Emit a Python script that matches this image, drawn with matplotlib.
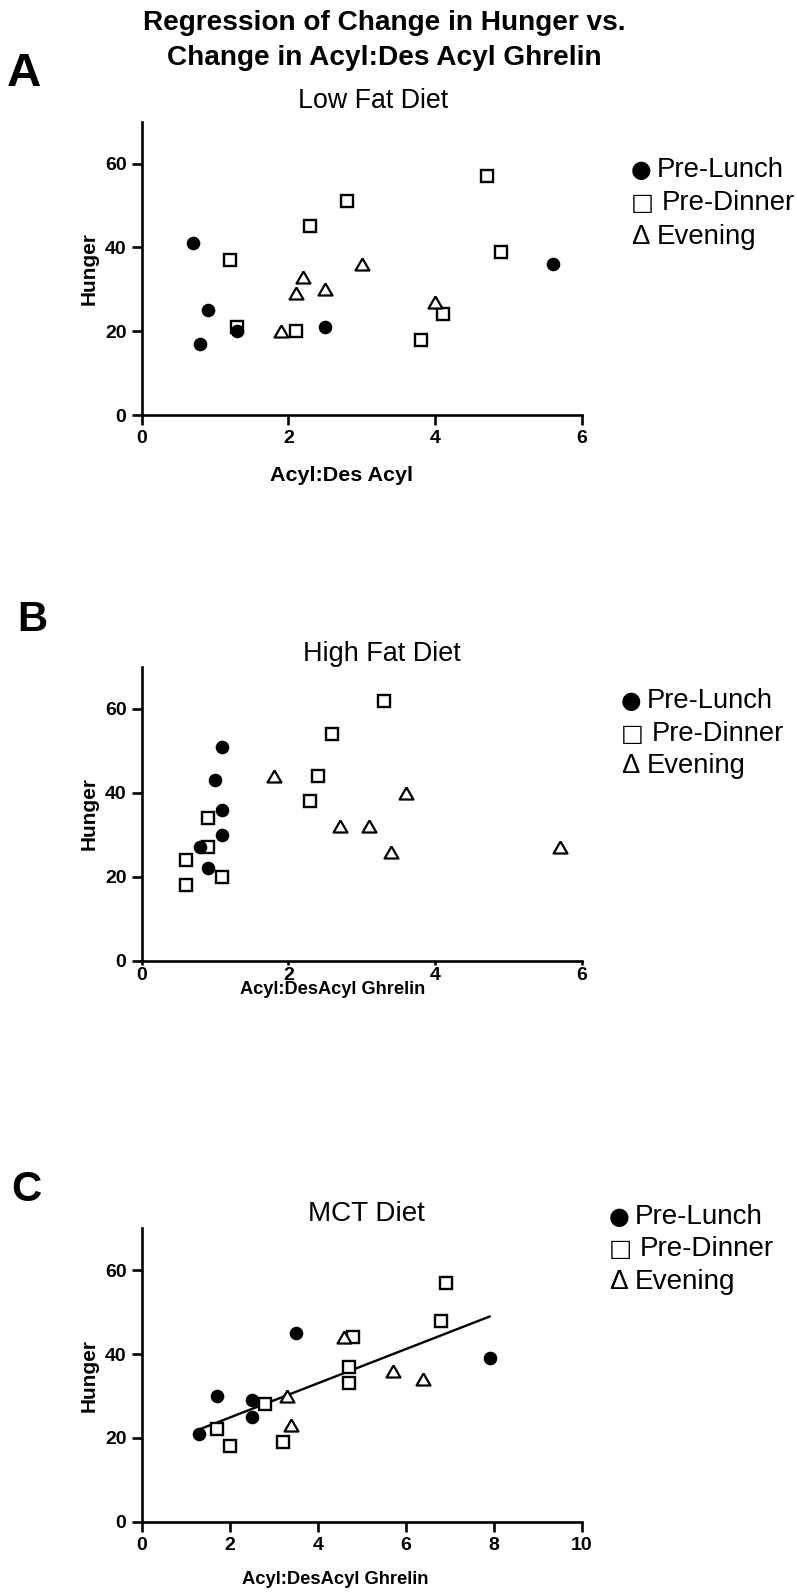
import numpy as np
import matplotlib
matplotlib.use("Agg")
import matplotlib.pyplot as plt

# ---------------- data ----------------
lf_lunch_x = [0.7, 0.9, 0.8, 1.3, 2.5, 5.6]
lf_lunch_y = [41, 25, 17, 20, 21, 36]
lf_dinner_x = [1.2, 1.3, 2.1, 2.3, 2.8, 3.8, 4.1, 4.7, 4.9]
lf_dinner_y = [37, 21, 20, 45, 51, 18, 24, 57, 39]
lf_even_x = [1.9, 2.1, 2.2, 2.5, 3.0, 4.0]
lf_even_y = [20, 29, 33, 30, 36, 27]

hf_lunch_x = [1.1, 1.0, 1.1, 1.1, 0.8, 0.9]
hf_lunch_y = [51, 43, 36, 30, 27, 22]
hf_dinner_x = [0.6, 0.6, 0.9, 0.9, 1.1, 2.3, 2.4, 2.6, 3.3]
hf_dinner_y = [24, 18, 34, 27, 20, 38, 44, 54, 62]
hf_even_x = [1.8, 2.7, 3.1, 3.4, 3.6, 5.7]
hf_even_y = [44, 32, 32, 26, 40, 27]

mct_lunch_x = [1.3, 1.7, 2.5, 2.5, 3.5, 7.9]
mct_lunch_y = [21, 30, 29, 25, 45, 39]
mct_dinner_x = [1.7, 2.0, 2.8, 3.2, 4.7, 4.7, 4.8, 6.8, 6.9]
mct_dinner_y = [22, 18, 28, 19, 37, 33, 44, 48, 57]
mct_even_x = [3.3, 3.4, 4.6, 5.7, 6.4]
mct_even_y = [30, 23, 44, 36, 34]

panel_letters = ["A", "B", "C"]
panel_titles = ["Low Fat Diet", "High Fat Diet", "MCT Diet"]
x_labels = ["Acyl:Des Acyl", "Acyl:DesAcyl Ghrelin", "Acyl:DesAcyl Ghrelin"]
y_label = "Hunger"
x_ticks = [[0, 2, 4, 6], [0, 2, 4, 6], [0, 2, 4, 6, 8, 10]]
y_ticks = [0, 20, 40, 60]
legend_symbols = ["\u25CF", "\u25A1", "\u0394"]
legend_names = ["Pre-Lunch", "Pre-Dinner", "Evening"]
main_title = ["Regression of Change in Hunger vs.",
              "Change in Acyl:Des Acyl Ghrelin"]

# ---------------- fonts ----------------
ARIAL = ["Liberation Sans", "DejaVu Sans"]
SYMBOL_FONTS = [["DejaVu Sans"], ["DejaVu Sans"], ARIAL]
SYMBOL_SCALE = [0.86, 0.88, 1.0]
NAME_OFFSET = [26, 31, 26]   # gap from symbol to name, px

W, H = 797, 1596
fig = plt.figure(figsize=(W / 100, H / 100), dpi=100)
renderer = fig.canvas.get_renderer()


def fx(x):
    return x / W


def fy(y):
    return 1 - y / H


def fitted_size(text, width_px, **kw):
    t = fig.text(0, 0, text, fontsize=20, **kw)
    w = t.get_window_extent(renderer).width
    t.remove()
    return 20 * width_px / w


def put(text, x, y, width_px=None, size=None, ha="center", **kw):
    if size is None:
        size = fitted_size(text, width_px, **kw)
    fig.text(fx(x), fy(y), text, fontsize=size, ha=ha, va="baseline", **kw)
    return size


# ---------------- titles ----------------
s = put(main_title[0], 384, 30, width_px=483, family=ARIAL, fontweight="bold")
put(main_title[1], 384, 65, size=s, family=ARIAL, fontweight="bold")

# ---------------- panels ----------------
# (left, right, top, bottom) pixel boxes of the plotting areas
boxes = [(141.7, 582, 121.7, 415.0),
         (141.7, 582, 667.0, 960.7),
         (141.7, 582, 1228.3, 1521.7)]
xmax = [6, 6, 10]

letter_pos = [(7, 86, 34), (17, 631, 30), (11, 1201, 30)]
title_pos = [(373, 108, 150), (381.5, 661, 157), (366.5, 1221, 117)]
xlabel_pos = [(341, 481, 142), (333, 994, 185), (335, 1584, 186)]
legend_pos = [(631, [177, 210, 244], 127), (621, [708, 741, 773], 126),
              (609, [1224, 1256, 1289], 128)]
xtick_style = [dict(length=7, pad=4), dict(length=3, pad=1.5),
               dict(length=7, pad=4)]

series = [
    (lf_lunch_x, lf_lunch_y, lf_dinner_x, lf_dinner_y, lf_even_x, lf_even_y),
    (hf_lunch_x, hf_lunch_y, hf_dinner_x, hf_dinner_y, hf_even_x, hf_even_y),
    (mct_lunch_x, mct_lunch_y, mct_dinner_x, mct_dinner_y, mct_even_x, mct_even_y),
]

tri = [(0, 0.433), (-0.5, -0.433), (0.5, -0.433), (0, 0.433)]

for i, (l, r, t, b) in enumerate(boxes):
    ax = fig.add_axes([fx(l), fy(b), (r - l) / W, (b - t) / H])
    ax.set_xlim(0, xmax[i])
    ax.set_ylim(0, 70)
    for side in ("top", "right"):
        ax.spines[side].set_visible(False)
    for side in ("left", "bottom"):
        ax.spines[side].set_linewidth(1.9)
    ax.set_xticks(x_ticks[i])
    ax.set_yticks(y_ticks)
    ax.tick_params(axis="y", direction="out", length=7, width=1.9, pad=4,
                   labelsize=14)
    ax.tick_params(axis="x", direction="out", width=1.9, labelsize=14,
                   **xtick_style[i])
    for lab in ax.get_xticklabels() + ax.get_yticklabels():
        lab.set_family(ARIAL)
        lab.set_fontweight("bold")
    ax.set_facecolor("none")

    lx, ly, dx, dy, ex, ey = series[i]
    ax.plot(dx, dy, ls="none", marker="s", ms=8.8, mew=1.7,
            mec="black", mfc="white", clip_on=False, zorder=3)
    ax.plot(ex, ey, ls="none", marker=tri, ms=10, mew=1.6,
            mec="black", mfc="white", clip_on=False, zorder=3)
    ax.plot(lx, ly, ls="none", marker="o", ms=9.8, mew=0,
            mfc="black", clip_on=False, zorder=4)

    if i == 2:
        allx = np.array(lx + dx + ex, dtype=float)
        ally = np.array(ly + dy + ey, dtype=float)
        slope, icpt = np.polyfit(allx, ally, 1)
        xs = np.array([allx.min(), allx.max()])
        ax.plot(xs, slope * xs + icpt, color="black", lw=1.7, zorder=2)

    ax.set_ylabel(y_label, family=ARIAL, fontweight="bold", fontsize=15)
    ax.yaxis.set_label_coords((89 - l) / (r - l), 0.5)
    ax.yaxis.label.set_va("center")

    # panel letter
    px, py, cap = letter_pos[i]
    put(panel_letters[i], px, py, size=cap / 0.716 * 0.72, ha="left",
        family=ARIAL, fontweight="bold")
    # panel title
    tx, ty, tw = title_pos[i]
    put(panel_titles[i], tx, ty, width_px=tw, family=ARIAL)
    # x label
    xx, xy, xw = xlabel_pos[i]
    put(x_labels[i], xx, xy, width_px=xw, family=ARIAL, fontweight="bold")
    # legend: a symbol glyph followed by the series name
    gx, gys, gw = legend_pos[i]
    gs = fitted_size(legend_names[0], gw, family=ARIAL)
    for k, gy in enumerate(gys):
        put(legend_symbols[k], gx, gy, size=gs * SYMBOL_SCALE[k], ha="left",
            family=SYMBOL_FONTS[k])
        put(legend_names[k], gx + NAME_OFFSET[k], gy, size=gs, ha="left",
            family=ARIAL)

fig.savefig("out.png", dpi=100, facecolor="white")
